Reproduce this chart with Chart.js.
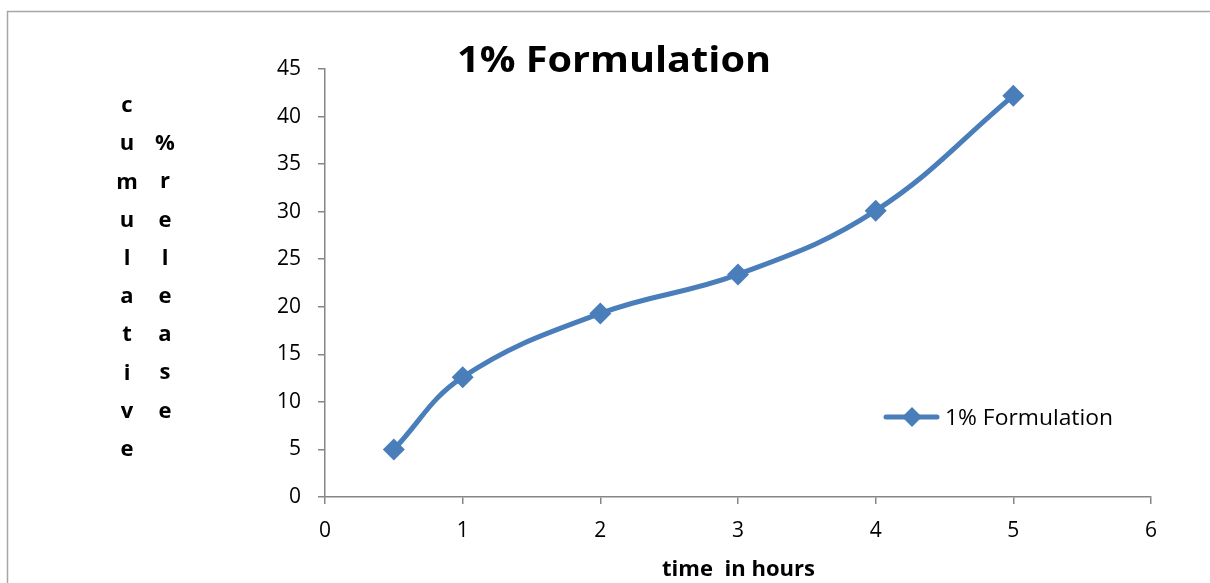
<!DOCTYPE html>
<html><head><meta charset="utf-8">
<script src="https://cdn.jsdelivr.net/npm/chart.js@4"></script>
<style>html,body{margin:0;padding:0;background:#fff;}#wrap{width:1210px;height:583px;position:relative;}</style>
</head><body><div id="wrap"><canvas id="c" width="1210" height="583"></canvas></div>
<script>
const timeHours = [0.5, 1, 2, 3, 4, 5];
const releasePct = [5.0, 12.6, 19.3, 23.4, 30.1, 42.2];
const seriesName = '1% Formulation';
const chartTitle = '1% Formulation';
const xTitle = 'time  in hours';
const yTitleCol1 = 'cumulative';
const yTitleCol2 = '% release';

const FONT = '"Open Sans", Lato, sans-serif';
const BLUE = '#4a7ebb';
const AXIS = '#868686';

// draw text whose left edge is x0 and baseline y, stretched horizontally to targetW
function stretchedText(ctx, text, x0, baseY, targetW) {
  const w = ctx.measureText(text).width;
  const sx = targetW / w;
  ctx.save();
  ctx.translate(x0, baseY);
  ctx.scale(sx, 1);
  ctx.textAlign = 'left'; ctx.textBaseline = 'alphabetic';
  ctx.fillText(text, 0, 0);
  ctx.restore();
}

const decor = {
  id: 'decor',
  afterDraw(chart) {
    const ctx = chart.ctx;
    ctx.save();
    // outer frame
    ctx.strokeStyle = '#a6a6a6';
    ctx.lineWidth = 1.5;
    ctx.beginPath();
    ctx.moveTo(7.5, 600); ctx.lineTo(7.5, 11.5); ctx.lineTo(1220, 11.5);
    ctx.stroke();
    // title
    ctx.fillStyle = '#000';
    ctx.font = 'bold 36px ' + FONT;
    stretchedText(ctx, chartTitle, 457, 72, 314);
    // x title
    ctx.font = 'bold 21px ' + FONT;
    stretchedText(ctx, xTitle, 662, 576, 153);
    // y title, stacked letters in two columns
    ctx.font = 'bold 22px ' + FONT;
    ctx.textAlign = 'center'; ctx.textBaseline = 'middle';
    const step = 38.2;
    [...yTitleCol1].forEach((ch, i) => ctx.fillText(ch, 127, 106 + i * step));
    [...yTitleCol2.replace(' ', '')].forEach((ch, i) => ctx.fillText(ch, 165, 144 + i * step));
    // legend
    const ly = 417;
    ctx.strokeStyle = BLUE; ctx.lineWidth = 5; ctx.lineCap = 'round';
    ctx.beginPath(); ctx.moveTo(886, ly); ctx.lineTo(937, ly); ctx.stroke();
    ctx.fillStyle = BLUE;
    ctx.beginPath();
    ctx.moveTo(912, ly - 10); ctx.lineTo(922, ly); ctx.lineTo(912, ly + 10); ctx.lineTo(902, ly); ctx.closePath(); ctx.fill();
    ctx.fillStyle = '#000';
    ctx.font = '22px ' + FONT;
    stretchedText(ctx, seriesName, 945, 425, 168);
    ctx.restore();
  }
};

new Chart(document.getElementById('c'), {
  type: 'line',
  data: {
    datasets: [{
      label: seriesName,
      data: timeHours.map((x, i) => ({x, y: releasePct[i]})),
      borderColor: BLUE,
      backgroundColor: BLUE,
      borderWidth: 5,
      tension: 0.4,
      pointStyle: 'rectRot',
      pointRadius: 11,
      pointHoverRadius: 11,
      pointBorderWidth: 0,
      fill: false
    }]
  },
  options: {
    responsive: false,
    animation: false,
    events: [],
    layout: { padding: { top: 69, right: 59, bottom: 0, left: 0 } },
    plugins: { legend: { display: false }, title: { display: false }, tooltip: { enabled: false } },
    scales: {
      x: {
        type: 'linear', min: 0, max: 6,
        ticks: { stepSize: 1, color: '#000', font: { family: FONT, size: 21 }, padding: 14 },
        grid: { drawOnChartArea: false, color: AXIS, tickLength: 7, lineWidth: 1.5 },
        border: { color: AXIS, width: 1.5 },
        afterFit(s) { s.height = 86; }
      },
      y: {
        min: 0, max: 45,
        ticks: { stepSize: 5, color: '#000', font: { family: FONT, size: 21 }, padding: 17 },
        grid: { drawOnChartArea: false, color: AXIS, tickLength: 7, lineWidth: 1.5 },
        border: { color: AXIS, width: 1.5 },
        afterFit(s) { s.width = 325; }
      }
    }
  },
  plugins: [decor]
});
</script></body></html>
